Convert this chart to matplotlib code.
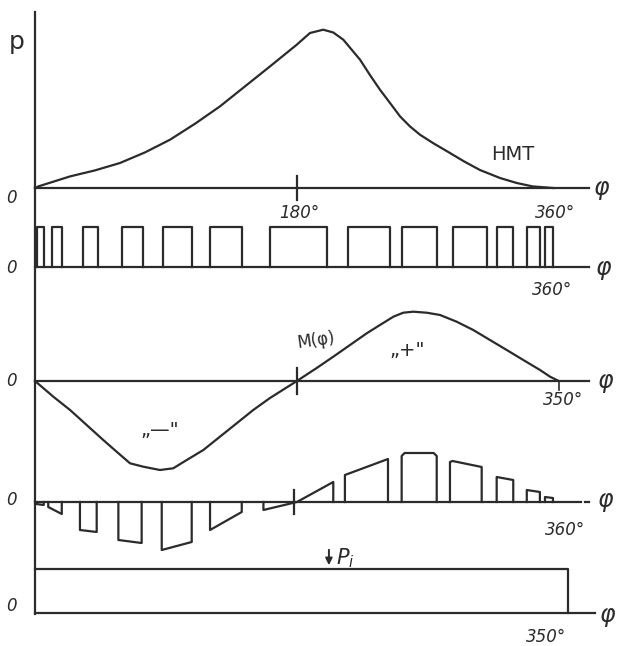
import matplotlib
matplotlib.use('Agg')
import matplotlib.pyplot as plt
from matplotlib.lines import Line2D

# row 1: pressure curve P(phi), HMT
p_phi = [0, 2.3, 24.1, 41.2, 58.4, 75.6, 92.8, 110, 127.1, 144.3, 161.5, 179.9, 189, 198.1,
         205, 211.9, 223.4, 230.2, 237.1, 244, 250.9, 257.7, 264.6, 273.5, 285.2, 295, 305.8,
         319.6, 331.1, 342, 356.2]
p_val = [0, 1.6, 11.6, 17.6, 25, 35.6, 48.3, 64.3, 81.6, 101.6, 121.6, 143.3, 155, 158.3,
         155.5, 148.3, 128.3, 113, 98.3, 85, 71.6, 61.6, 53.3, 45, 35, 26.5, 18,
         10, 5, 1.6, 0]

# row 2: switching pulses (start, end in degrees)
pulse_start = [1.2, 11.5, 33.2, 59.6, 88.2, 120.3, 161.5, 215.3, 252, 287.5, 317.3, 337.9, 350.5]
pulse_end = [6.2, 18.4, 43.5, 74.4, 107.7, 142.1, 200.5, 244, 276.1, 310.4, 328.7, 347.1, 356.2]
pulse_h = 40

# row 3: moment M(phi)
m_phi = [0, 12.6, 24.1, 35.5, 46.9, 56.1, 65.3, 74.4, 85.9, 95, 104.3, 115.7, 127.1, 138.6,
         150, 161.5, 180, 193.6, 205, 216.5, 228, 237.1, 246.3, 253.1, 260, 269.2, 278.4,
         289.8, 301.2, 312.7, 324.2, 335.6, 347.1, 354, 360]
m_val = [0, -15.7, -29, -44, -59, -70.7, -82.3, -85.7, -89, -87.3, -79, -69, -55.7, -42.3,
         -29, -17, 0, 13, 24.3, 36, 47.7, 56, 64.3, 68.3, 69.3, 68.3, 66,
         59.3, 51, 41, 31, 21, 11, 4.3, 0]

# row 4: moment inside pulses, top outline of each pulse (phi, value)
m_pulses = [
    [(1, -2), (6, -3)],
    [(9.1, -5), (18.4, -12)],
    [(30.9, -28), (42.4, -30)],
    [(57.3, -38), (73.3, -41)],
    [(87.1, -48), (107.7, -40)],
    [(120.3, -28), (142.1, -10)],
    [(157, -8), (180, 0), (205, 20)],
    [(213, 27), (242.6, 43)],
    [(252, 46), (254, 49), (274, 49), (276.1, 46)],
    [(285.2, 40), (287, 41), (307, 35)],
    [(317.3, 25), (328.7, 22)],
    [(338, 12), (347, 10)],
    [(350.5, 5), (356, 4)],
]

# row 5: constant level P_i
pi_end = 366
pi_val = 44

W, H = 623, 646
PPD = 1.455
X0 = 35
LC = '#2b2b2b'
LW = 1.6

fig = plt.figure(figsize=(W / 100, H / 100), dpi=100)
fig.patch.set_facecolor('white')


def row_axes(top, bottom, base):
    ax = fig.add_axes([0, 1 - bottom / H, 1, (bottom - top) / H])
    ax.set_xlim(-X0 / PPD, (W - X0) / PPD)
    ax.set_ylim(-(bottom - base), base - top)
    ax.axis('off')
    ax.patch.set_alpha(0)
    return ax


def ftext(x, y, s, size=12, **kw):
    kw.setdefault('style', 'italic')
    fig.text(x / W, 1 - y / H, s, fontsize=size, color=LC, ha='center', va='center', **kw)


# vertical axis
fig.add_artist(Line2D([X0 / W, X0 / W], [1 - 12 / H, 1 - 614 / H], color=LC, lw=LW))

# row 1
ax1 = row_axes(0, 215, 188)
ax1.plot([0, 381], [0, 0], color=LC, lw=LW)
ax1.plot(p_phi, p_val, color=LC, lw=LW)
ax1.plot([180, 180], [-12, 12], color=LC, lw=LW)

# row 2
ax2 = row_axes(215, 300, 267)
ax2.plot([0, 381], [0, 0], color=LC, lw=LW)
for s, e in zip(pulse_start, pulse_end):
    ax2.plot([s, s, e, e], [0, pulse_h, pulse_h, 0], color=LC, lw=LW)

# row 3
ax3 = row_axes(300, 485, 381)
ax3.plot([0, 381], [0, 0], color=LC, lw=LW)
ax3.plot(m_phi, m_val, color=LC, lw=LW)
ax3.plot([180, 180], [-13, 13], color=LC, lw=LW)
ax3.plot([360, 360], [0, -9], color=LC, lw=1.2)

# row 4
ax4 = row_axes(440, 560, 502)
ax4.plot([0, 375], [0, 0], color=LC, lw=LW)
ax4.plot([378, 381], [0, 0], color=LC, lw=LW)
for top in m_pulses:
    xs = [top[0][0]] + [t[0] for t in top] + [top[-1][0]]
    ys = [0] + [t[1] for t in top] + [0]
    ax4.plot(xs, ys, color=LC, lw=LW)
ax4.plot([178, 178], [-12, 12], color=LC, lw=LW)

# row 5
ax5 = row_axes(540, 646, 613)
ax5.plot([0, 385], [0, 0], color=LC, lw=LW)
ax5.plot([0, pi_end, pi_end], [pi_val, pi_val, 0], color=LC, lw=LW)
ax5.annotate('', xy=(202, pi_val + 1), xytext=(202, pi_val + 22),
             arrowprops=dict(arrowstyle='-|>', color=LC, lw=1.4, mutation_scale=10))
ftext(345, 558, '$P_{i}$', size=15)

# labels
ftext(17, 42, 'p', size=18, style='normal')
for y in [198, 268, 381, 500, 606]:
    ftext(11, y, '0', size=12)
ftext(299, 213, '180°', size=12)
ftext(555, 213, '360°', size=12)
ftext(552, 290, '360°', size=12)
ftext(563, 400, '350°', size=12)
ftext(565, 530, '360°', size=12)
ftext(546, 637, '350°', size=12)
for x, y in [(602, 188), (604, 268), (606, 381), (606, 500), (608, 615)]:
    ftext(x, y, 'φ', size=17)
ftext(513, 155, 'HMT', size=14, style='normal')
ftext(316, 340, 'M(φ)', size=12, style='normal', rotation=8)
ftext(407, 350, '„+"', size=14, style='normal')
ftext(160, 430, '„—"', size=14, style='normal')

fig.savefig('out.png', dpi=100, facecolor='white')
